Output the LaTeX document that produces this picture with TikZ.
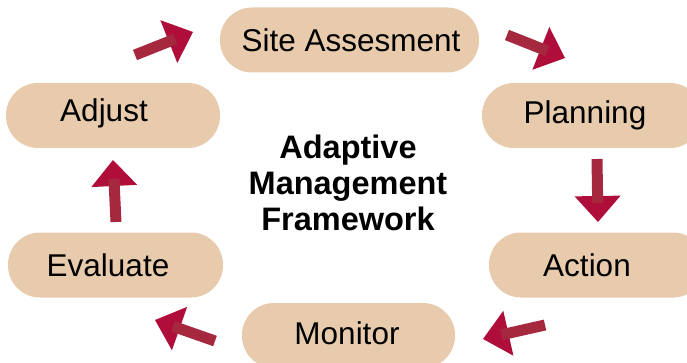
\documentclass[tikz,border=0pt]{standalone}
\usepackage{fontspec}
\setmainfont{Liberation Sans}
\usetikzlibrary{calc}
\definecolor{peach}{HTML}{E8CBAC}
\definecolor{shaftc}{HTML}{A5283F}
\definecolor{headc}{HTML}{B00E3A}
\tikzset{
  pill/.style={rectangle, rounded corners=32pt, fill=peach, draw=none, inner sep=0pt, minimum height=65pt},
  pilltext/.style={font=\fontsize{31.5}{36}\selectfont, text=black, inner sep=0pt},
  shaft/.style={draw=shaftc, line width=11pt, line cap=butt},
  headtri/.style={fill=headc, draw=none}
}
\newcommand{\flowarrow}[2]{%
  \fill[headtri] (#2) -- ($($(#2)!26pt!(#1)$)!23pt!90:(#2)$) -- ($($(#2)!26pt!(#1)$)!23pt!-90:(#2)$) -- cycle;
  \draw[shaft] (#1) -- ($(#2)!19pt!(#1)$);
}
\begin{document}
\begin{tikzpicture}[x=1pt,y=-1pt]
\useasboundingbox (0,0) rectangle (687,363);
\node[pill, minimum width=259pt, label={[pilltext, xshift=1.5pt]center:Site Assesment}] (site) at (349.5,40) {};
\node[pill, minimum width=220pt, label={[pilltext, xshift=-7pt]center:Planning}] (plan) at (592,115.5) {};
\node[pill, minimum width=216pt, label={[pilltext, xshift=-10pt]center:Action}] (act) at (597,265) {};
\node[pill, minimum width=213pt, label={[pilltext, xshift=-1.5pt, yshift=2pt]center:Monitor}] (mon) at (348.5,335.5) {};
\node[pill, minimum width=215pt, label={[pilltext, xshift=-7.5pt]center:Evaluate}] (eval) at (115.5,265) {};
\node[pill, minimum width=214pt, label={[pilltext, xshift=-9pt, yshift=2pt]center:Adjust}] (adj) at (113,115.5) {};
\node[align=center, font=\fontsize{32.5}{36}\selectfont\bfseries, inner sep=0pt] (title) at (348,183) {Adaptive\\Management\\Framework};
\coordinate (a1s) at (135,55);  \coordinate (a1t) at (193,32);
\coordinate (a2s) at (507,35);  \coordinate (a2t) at (565,58);
\coordinate (a3s) at (597,159); \coordinate (a3t) at (598,222);
\coordinate (a4s) at (545,325); \coordinate (a4t) at (483,339);
\coordinate (a5s) at (215,341); \coordinate (a5t) at (155,320);
\coordinate (a6s) at (116,222); \coordinate (a6t) at (113,160);
\flowarrow{a1s}{a1t}
\flowarrow{a2s}{a2t}
\flowarrow{a3s}{a3t}
\flowarrow{a4s}{a4t}
\flowarrow{a5s}{a5t}
\flowarrow{a6s}{a6t}
\end{tikzpicture}
\end{document}
